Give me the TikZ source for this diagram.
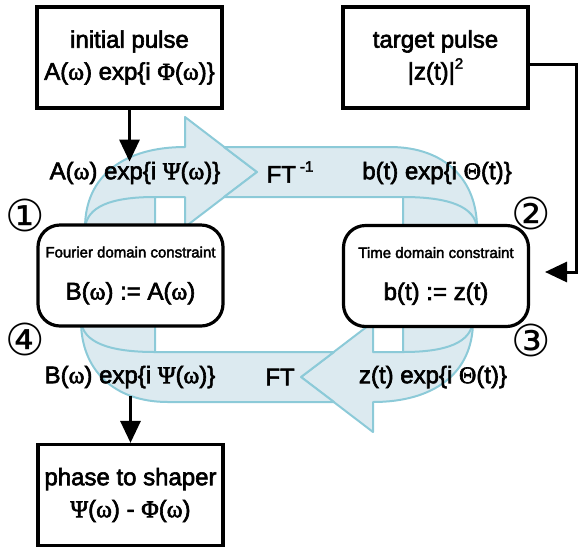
\documentclass[tikz,border=0pt]{standalone}
\usepackage{fontspec}
\setmainfont{Liberation Sans}[FakeBold=2.5]
\newfontfamily\greek{Liberation Serif}[FakeBold=2.5]
\newfontfamily\dejavu{DejaVu Sans}
\usetikzlibrary{arrows.meta}
\usetikzlibrary{calc, positioning}
\definecolor{bandfill}{RGB}{220,234,240}
\definecolor{bandedge}{RGB}{140,202,216}
\tikzset{>={Triangle[length=22pt,width=20pt]}}
\tikzset{band/.style = {fill=bandfill, draw=bandedge, line width=2pt, line join=round}}
\tikzset{bandline/.style = {draw=bandedge, line width=2pt}}
\tikzset{pbox/.style = {draw, fill=white, line width=3.2pt, minimum width=185pt, minimum height=101pt,
    align=center, inner sep=0pt, font=\fontsize{24}{32}\selectfont}}
\tikzset{cbox/.style = {pbox, rounded corners=22pt}}
\tikzset{lbl/.style = {font=\fontsize{24}{28}\selectfont, inner sep=0pt}}
\tikzset{num/.style = {font=\dejavu\fontsize{44}{44}\selectfont, inner sep=0pt}}
\tikzset{conn/.style = {->, line width=3pt}}
\newcommand{\om}{{\greek ω}}
\newcommand{\gPsi}{{\greek Ψ}}
\newcommand{\gPhi}{{\greek Φ}}
\newcommand{\gTheta}{{\greek Θ}}
\newcommand{\upper}[1]{\raisebox{11pt}{\fontsize{15}{15}\selectfont #1}}

\begin{document}
\begin{tikzpicture}[x=1pt, y=-1pt]
    \useasboundingbox (0,0) rectangle (578,550);

    % Top half of the loop: left curl with arrow head
    \filldraw[band] (85,228) .. controls (85,175) and (125,147) .. (185,147) -- (185,117) -- (257,172)
        -- (185,227) -- (185,197) -- (155,197) -- (155,228) -- cycle;
    \draw[bandline] (155,197) .. controls (110,197) and (87,207) .. (85,228);

    % Top half of the loop: band and right curl
    \filldraw[band] (224,147) -- (390,147) .. controls (445,147) and (477,180) .. (477,228)
        -- (403,228) -- (403,197) -- (224,197) -- (257,172) -- cycle;
    \draw[bandline] (403,197) .. controls (450,197) and (475,207) .. (477,228);

    % Bottom half of the loop: right curl with arrow head
    \filldraw[band] (473,321) .. controls (473,374) and (433,402) .. (373,402) -- (373,432) -- (301,377)
        -- (373,322) -- (373,352) -- (403,352) -- (403,321) -- cycle;
    \draw[bandline] (403,352) .. controls (448,352) and (471,342) .. (473,321);

    % Bottom half of the loop: band and left curl
    \filldraw[band] (334,402) -- (168,402) .. controls (113,402) and (81,369) .. (81,321)
        -- (155,321) -- (155,352) -- (334,352) -- (301,377) -- cycle;
    \draw[bandline] (155,352) .. controls (108,352) and (83,342) .. (81,321);

    % Boxes
    \node[pbox] (init) at (129.5,57.5) {initial pulse\\A(\om) exp\{i \gPhi(\om)\}};
    \node[pbox] (target) at (435.5,57.5) {target pulse\\|z(t)|\upper{2}};
    \node[cbox] (fourier) at (130.5,275.5) {{\fontsize{15}{18}\selectfont Fourier domain constraint}\\[10pt]B(\om) := A(\om)};
    \node[cbox] (time) at (436,276) {{\fontsize{15}{18}\selectfont Time domain constraint}\\[10pt]b(t) := z(t)};
    \node[pbox] (shaper) at (130.5,495) {phase to shaper\\\gPsi(\om) - \gPhi(\om)};

    % Labels on the loop
    \node[lbl] (psiA) at (135,173) {A(\om) exp\{i \gPsi(\om)\}};
    \node[lbl] (ftinv) at (290,172) {FT\,\upper{-1}};
    \node[lbl] (btheta) at (437,173) {b(t) exp\{i \gTheta(t)\}};
    \node[lbl] (bpsi) at (130,377) {B(\om) exp\{i \gPsi(\om)\}};
    \node[lbl] (ft) at (280,377) {FT};
    \node[lbl] (ztheta) at (433,377) {z(t) exp\{i \gTheta(t)\}};

    % Step numbers
    \node[num] (n1) at (25,215) {①};
    \node[num] (n2) at (531,213) {②};
    \node[num] (n3) at (531,340) {③};
    \node[num] (n4) at (25,339) {④};

    % Connectors
    \coordinate (tcorner) at (576,272);
    \coordinate (tin) at (545,272);
    \draw[conn] (init.south) -- (init.south |- psiA.north);
    \draw[conn, shorten <=8pt] (bpsi.south -| shaper.north) -- (shaper.north);
    \draw[conn] ([yshift=-7pt]target.east) -| (tcorner) -- (tin);
\end{tikzpicture}
\end{document}
